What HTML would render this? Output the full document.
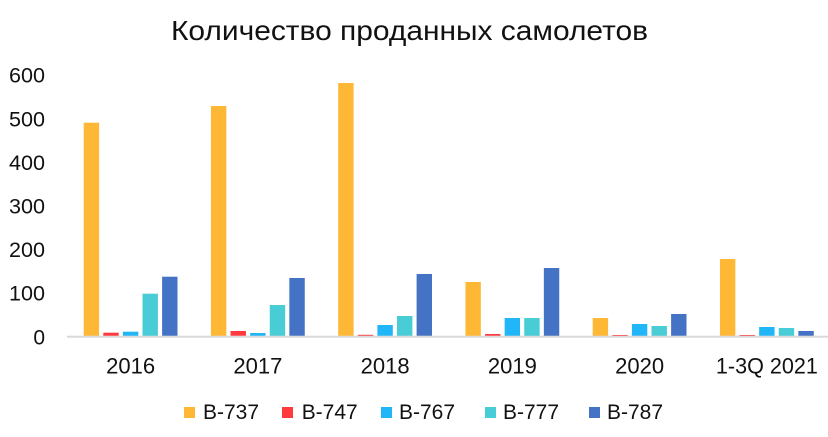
<!DOCTYPE html>
<html>
<head>
<meta charset="utf-8">
<style>
  html, body { margin: 0; padding: 0; background: #fff; }
  svg { display: block; }
  text { font-family: "Liberation Sans", "DejaVu Sans", sans-serif; fill: #111; }
</style>
</head>
<body>
<svg width="828" height="437" viewBox="0 0 828 437" xmlns="http://www.w3.org/2000/svg">
  <rect x="0" y="0" width="828" height="437" fill="#ffffff"/>

  <!-- Title -->
  <text x="171" y="40" font-size="28" textLength="477" lengthAdjust="spacingAndGlyphs">Количество проданных самолетов</text>

  <!-- Y axis labels -->
  <g font-size="21" text-anchor="end">
    <text x="45" y="82.7" textLength="36" lengthAdjust="spacingAndGlyphs">600</text>
    <text x="45" y="126.3" textLength="36" lengthAdjust="spacingAndGlyphs">500</text>
    <text x="45" y="169.9" textLength="36" lengthAdjust="spacingAndGlyphs">400</text>
    <text x="45" y="213.5" textLength="36" lengthAdjust="spacingAndGlyphs">300</text>
    <text x="45" y="257.1" textLength="36" lengthAdjust="spacingAndGlyphs">200</text>
    <text x="45" y="300.7" textLength="36" lengthAdjust="spacingAndGlyphs">100</text>
    <text x="45" y="344.3">0</text>
  </g>

  <!-- Bars -->
  <g>
    <!-- 2016 -->
    <rect x="83.7" y="122.7" width="15.4" height="213.3" fill="#FFB736"/>
    <rect x="103.3" y="332.7" width="15.4" height="3.3" fill="#FF3A3F"/>
    <rect x="122.9" y="331.7" width="15.4" height="4.3" fill="#21B6F8"/>
    <rect x="142.5" y="293.7" width="15.4" height="42.3" fill="#48CCD6"/>
    <rect x="162.1" y="276.7" width="15.4" height="59.3" fill="#4472C4"/>
    <!-- 2017 -->
    <rect x="210.95" y="106" width="15.4" height="230" fill="#FFB736"/>
    <rect x="230.55" y="331" width="15.4" height="5" fill="#FF3A3F"/>
    <rect x="250.15" y="333" width="15.4" height="3" fill="#21B6F8"/>
    <rect x="269.75" y="305" width="15.4" height="31" fill="#48CCD6"/>
    <rect x="289.35" y="278" width="15.4" height="58" fill="#4472C4"/>
    <!-- 2018 -->
    <rect x="338.2" y="83" width="15.4" height="253" fill="#FFB736"/>
    <rect x="357.8" y="334.8" width="15.4" height="1.2" fill="#FF3A3F"/>
    <rect x="377.4" y="325" width="15.4" height="11" fill="#21B6F8"/>
    <rect x="397" y="316" width="15.4" height="20" fill="#48CCD6"/>
    <rect x="416.6" y="274" width="15.4" height="62" fill="#4472C4"/>
    <!-- 2019 -->
    <rect x="465.45" y="282" width="15.4" height="54" fill="#FFB736"/>
    <rect x="485.05" y="334" width="15.4" height="2" fill="#FF3A3F"/>
    <rect x="504.65" y="318" width="15.4" height="18" fill="#21B6F8"/>
    <rect x="524.25" y="318" width="15.4" height="18" fill="#48CCD6"/>
    <rect x="543.85" y="268" width="15.4" height="68" fill="#4472C4"/>
    <!-- 2020 -->
    <rect x="592.7" y="318" width="15.4" height="18" fill="#FFB736"/>
    <rect x="612.3" y="335" width="15.4" height="1" fill="#FF3A3F"/>
    <rect x="631.9" y="324" width="15.4" height="12" fill="#21B6F8"/>
    <rect x="651.5" y="326" width="15.4" height="10" fill="#48CCD6"/>
    <rect x="671.1" y="314" width="15.4" height="22" fill="#4472C4"/>
    <!-- 1-3Q 2021 -->
    <rect x="719.95" y="259" width="15.4" height="77" fill="#FFB736"/>
    <rect x="739.55" y="335" width="15.4" height="1" fill="#FF3A3F"/>
    <rect x="759.15" y="327" width="15.4" height="9" fill="#21B6F8"/>
    <rect x="778.75" y="328" width="15.4" height="8" fill="#48CCD6"/>
    <rect x="798.35" y="331" width="15.4" height="5" fill="#4472C4"/>
  </g>

  <!-- X axis line -->
  <rect x="67" y="335.7" width="761" height="2" fill="#D9D9D9"/>

  <!-- X labels -->
  <g font-size="22" text-anchor="middle">
    <text x="130.6" y="373.5" textLength="49" lengthAdjust="spacingAndGlyphs">2016</text>
    <text x="257.9" y="373.5" textLength="49" lengthAdjust="spacingAndGlyphs">2017</text>
    <text x="385.1" y="373.5" textLength="49" lengthAdjust="spacingAndGlyphs">2018</text>
    <text x="512.4" y="373.5" textLength="49" lengthAdjust="spacingAndGlyphs">2019</text>
    <text x="639.6" y="373.5" textLength="49" lengthAdjust="spacingAndGlyphs">2020</text>
    <text x="766.9" y="373.5" textLength="102" lengthAdjust="spacingAndGlyphs">1-3Q 2021</text>
  </g>

  <!-- Legend -->
  <g font-size="21">
    <rect x="184" y="407" width="11" height="11" fill="#FFB736"/>
    <text x="203" y="419" textLength="56" lengthAdjust="spacingAndGlyphs">B-737</text>
    <rect x="282" y="407" width="11" height="11" fill="#FF3A3F"/>
    <text x="301.7" y="419" textLength="56" lengthAdjust="spacingAndGlyphs">B-747</text>
    <rect x="381" y="407" width="11" height="11" fill="#21B6F8"/>
    <text x="399" y="419" textLength="56" lengthAdjust="spacingAndGlyphs">B-767</text>
    <rect x="485" y="407" width="11" height="11" fill="#48CCD6"/>
    <text x="503" y="419" textLength="56" lengthAdjust="spacingAndGlyphs">B-777</text>
    <rect x="589" y="407" width="11" height="11" fill="#4472C4"/>
    <text x="607" y="419" textLength="56" lengthAdjust="spacingAndGlyphs">B-787</text>
  </g>
</svg>
</body>
</html>
